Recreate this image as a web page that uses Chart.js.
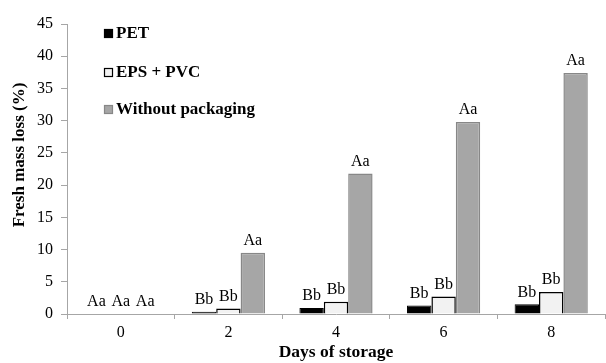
<!DOCTYPE html>
<html>
<head>
<meta charset="utf-8">
<script src="https://cdn.jsdelivr.net/npm/chart.js@4"></script>
<style>
  body { margin: 0; background: #fff; }
  #wrap { width: 606px; height: 363px; position: relative; }
</style>
</head>
<body>
<div id="wrap"><canvas id="chart" width="606" height="363"></canvas></div>
<script>
// data
const days = ["0", "2", "4", "6", "8"];
const pet_values = [0, 0.35, 0.95, 1.3, 1.5];
const eps_values = [0, 0.85, 1.9, 2.7, 3.4];
const without_values = [0, 9.5, 21.8, 29.8, 37.4];
const pet_letters = ["Aa", "Bb", "Bb", "Bb", "Bb"];
const eps_letters = ["Aa", "Bb", "Bb", "Bb", "Bb"];
const without_letters = ["Aa", "Aa", "Aa", "Aa", "Aa"];
const series_names = ["PET", "EPS + PVC", "Without packaging"];
const y_title = "Fresh mass loss (%)";
const x_title = "Days of storage";

const serif = "'Liberation Serif', 'Times New Roman', serif";
const axis_color = "#a6a6a6";

// letters above each bar
const letterPlugin = {
  id: "letters",
  afterDatasetsDraw(chart) {
    const ctx = chart.ctx;
    const all_letters = [pet_letters, eps_letters, without_letters];
    ctx.save();
    ctx.font = "16px " + serif;
    ctx.fillStyle = "#000";
    ctx.textAlign = "center";
    ctx.textBaseline = "bottom";
    chart.data.datasets.forEach((ds, i) => {
      chart.getDatasetMeta(i).data.forEach((bar, j) => {
        ctx.fillText(all_letters[i][j], bar.x, bar.y - 4);
      });
    });
    ctx.restore();
  }
};

// legend drawn inside the plot, top left + y title (sits a bit above centre in the original)
const legendPlugin = {
  id: "insideLegend",
  afterDraw(chart) {
    const ctx = chart.ctx;
    const rows = [33, 72, 109];
    ctx.save();
    ctx.font = "bold 17px " + serif;
    ctx.textBaseline = "middle";
    chart.data.datasets.forEach((ds, i) => {
      ctx.fillStyle = ds.backgroundColor;
      ctx.strokeStyle = ds.borderColor;
      ctx.lineWidth = 1.2;
      ctx.fillRect(104, rows[i] - 4, 9, 9);
      ctx.strokeRect(104.5, rows[i] - 3.5, 8, 8);
      ctx.fillStyle = "#000";
      ctx.fillText(series_names[i], 116, rows[i] + 1);
    });

    ctx.translate(20, 155);
    ctx.rotate(-Math.PI / 2);
    ctx.textAlign = "center";
    ctx.fillText(y_title, 0, 0);
    ctx.restore();
  }
};

new Chart(document.getElementById("chart"), {
  type: "bar",
  data: {
    labels: days,
    datasets: [
      {
        label: series_names[0],
        data: pet_values,
        backgroundColor: "#000000",
        borderColor: "#000000",
        borderWidth: 1
      },
      {
        label: series_names[1],
        data: eps_values,
        backgroundColor: "#f2f2f2",
        borderColor: "#000000",
        borderWidth: 1.5
      },
      {
        label: series_names[2],
        data: without_values,
        backgroundColor: "#a6a6a6",
        borderColor: "#878787",
        borderWidth: 1.5
      }
    ]
  },
  plugins: [letterPlugin, legendPlugin],
  options: {
    responsive: false,
    animation: false,
    categoryPercentage: 0.68,
    barPercentage: 1.0,
    layout: { padding: { top: 24, right: 1, left: 0, bottom: 0 } },
    plugins: {
      legend: { display: false },
      tooltip: { enabled: false }
    },
    scales: {
      x: {
        grid: {
          offset: true,
          drawOnChartArea: false,
          drawTicks: true,
          tickLength: 5,
          color: axis_color
        },
        border: { color: axis_color, width: 1 },
        ticks: {
          color: "#000",
          font: { family: serif, size: 16 },
          padding: 4
        },
        title: {
          display: true,
          text: x_title,
          color: "#000",
          font: { family: serif, size: 17.5, weight: "bold" },
          padding: { top: 0, bottom: 0 }
        },
        afterFit(scale) { scale.height = 49; }
      },
      y: {
        min: 0,
        max: 45,
        ticks: {
          stepSize: 5,
          color: "#000",
          font: { family: serif, size: 16 },
          padding: 8
        },
        grid: {
          drawOnChartArea: false,
          drawTicks: true,
          tickLength: 6,
          color: axis_color
        },
        border: { color: axis_color, width: 1 },
        afterFit(scale) { scale.width = 67; }
      }
    }
  }
});
</script>
</body>
</html>
